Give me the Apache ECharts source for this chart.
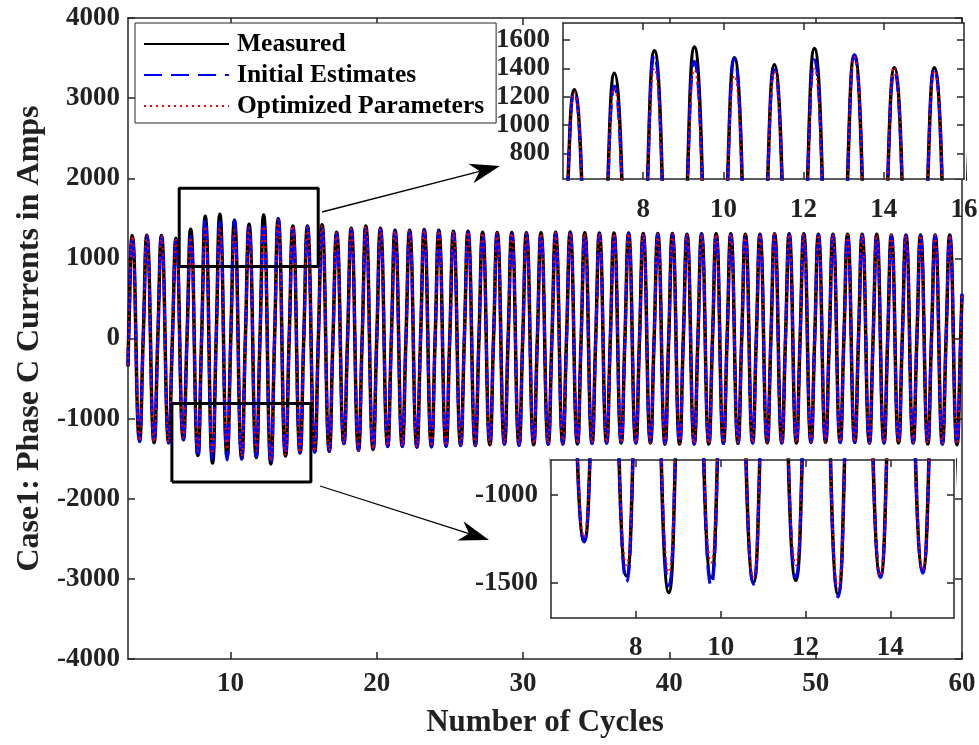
<!DOCTYPE html>
<html><head><meta charset="utf-8">
<script src="https://cdn.jsdelivr.net/npm/echarts@6/dist/echarts.min.js"></script>
<style>html,body{margin:0;padding:0;background:#fff}#c{width:979px;height:745px}</style>
</head><body><div id="c"></div>
<script>
// ---------- data ----------
const cycles = [3,4,5,6,7,8,9,10,11,12,13,14,15,16,17,18,19,20,21,22,23,24,25,26,27,28,29,30,31,32,33,34,35,36,37,38,39,40,41,42,43,44,45,46,47,48,49,50,51,52,53,54,55,56,57,58,59];
const firstPeakTime = 3.29;   // cycle position of first positive peak
const cyclePeriod = 0.9977;   // measured spacing between peaks

const measuredPeaks = [1285,1290,1285,1250,1365,1525,1550,1475,1425,1540,1495,1405,1405,1420,1325,1375,1405,1375,1350,1350,1360,1350,1340,1340,1325,1322,1322,1320,1320,1325,1328,1320,1318,1318,1318,1310,1310,1310,1300,1308,1308,1308,1300,1300,1308,1308,1308,1300,1300,1300,1300,1300,1292,1292,1292,1292,1292];
const measuredTroughs = [-1283,-1300,-1300,-1265,-1460,-1555,-1470,-1498,-1485,-1565,-1465,-1430,-1415,-1408,-1310,-1395,-1385,-1345,-1345,-1355,-1352,-1345,-1333,-1333,-1325,-1317,-1330,-1325,-1317,-1317,-1317,-1308,-1304,-1304,-1304,-1304,-1317,-1317,-1317,-1317,-1308,-1308,-1304,-1304,-1304,-1304,-1296,-1296,-1296,-1296,-1304,-1304,-1304,-1304,-1317,-1317,-1325];

const initialPeaks = [1275,1280,1275,1235,1275,1495,1450,1470,1390,1460,1495,1380,1400,1405,1315,1365,1395,1365,1340,1340,1350,1340,1330,1330,1315,1312,1312,1310,1310,1315,1318,1310,1308,1308,1308,1300,1300,1300,1292,1298,1298,1298,1292,1292,1298,1298,1298,1292,1292,1292,1292,1292,1285,1285,1285,1285,1285];
const initialTroughs = [-1290,-1305,-1305,-1265,-1495,-1517,-1517,-1508,-1470,-1580,-1470,-1445,-1420,-1410,-1315,-1400,-1390,-1350,-1350,-1360,-1355,-1350,-1338,-1338,-1330,-1322,-1335,-1330,-1322,-1322,-1322,-1312,-1308,-1308,-1308,-1308,-1320,-1320,-1320,-1320,-1312,-1312,-1308,-1308,-1308,-1308,-1300,-1300,-1300,-1300,-1308,-1308,-1308,-1308,-1320,-1320,-1328];

const optimizedPeaks = [1280,1285,1280,1230,1260,1400,1390,1350,1380,1400,1480,1410,1385,1410,1320,1370,1400,1370,1345,1345,1355,1345,1335,1335,1320,1318,1318,1315,1315,1320,1322,1315,1312,1312,1312,1305,1305,1305,1296,1303,1303,1303,1296,1296,1303,1303,1303,1296,1296,1296,1296,1296,1288,1288,1288,1288,1288];
const optimizedTroughs = [-1278,-1295,-1295,-1240,-1400,-1440,-1385,-1470,-1400,-1530,-1460,-1425,-1410,-1400,-1305,-1390,-1380,-1340,-1340,-1350,-1348,-1340,-1328,-1328,-1320,-1312,-1325,-1320,-1312,-1312,-1312,-1303,-1300,-1300,-1300,-1300,-1312,-1312,-1312,-1312,-1303,-1303,-1300,-1300,-1300,-1300,-1292,-1292,-1292,-1292,-1300,-1300,-1300,-1300,-1312,-1312,-1320];

const seriesNames = ['Measured','Initial Estimates','Optimized Parameters'];
const startValues = [-350,-340,-330];   // value at the left edge (cycle 3)
const endValues = [550,560,540];        // value at the right edge (cycle 60)

// tick labels
const mainXTicks = [10,20,30,40,50,60];
const mainYTicks = [-4000,-3000,-2000,-1000,0,1000,2000,3000,4000];
const inset1XTicks = [8,10,12,14,16];
const inset1YTicks = [800,1000,1200,1400,1600];
const inset2XTicks = [8,10,12,14];
const inset2YTicks = [-1500,-1000];

// zoom boxes on the main axes
const topBoxX = [6.5, 16], topBoxY = [900, 1875];
const bottomBoxX = [6, 15.5], bottomBoxY = [-1790, -810];

// ---------- build ----------
function buildWave(peaks, troughs, startVal, endVal) {
  const pts = [[3, startVal]];
  for (let i = 0; i < cycles.length; i++) {
    const tp = firstPeakTime + (cycles[i] - cycles[0]) * cyclePeriod;
    pts.push([tp - cyclePeriod / 4, 0]);
    pts.push([tp, peaks[i]]);
    pts.push([tp + cyclePeriod / 2, troughs[i]]);
  }
  const lastP = firstPeakTime + (cycles[cycles.length - 1] - cycles[0]) * cyclePeriod;
  pts.push([lastP + 3 * cyclePeriod / 4, 0]);
  pts.push([60, endVal]);
  return pts;
}
const waves = [
  buildWave(measuredPeaks, measuredTroughs, startValues[0], endValues[0]),
  buildWave(initialPeaks, initialTroughs, startValues[1], endValues[1]),
  buildWave(optimizedPeaks, optimizedTroughs, startValues[2], endValues[2])
];
const styles = [
  {color:'#000000', width:3.5, type:'solid'},
  {color:'#0000ff', width:3, type:[18,9]},
  {color:'#ff0000', width:2, type:[2,4]}
];

const FONT = '"Liberation Serif","Times New Roman",serif';
const AX = '#262626';
const plain = v => String(v);

function series(gridIdx, z) {
  return waves.map((w, k) => ({
    type:'line', name: seriesNames[k], data: w,
    xAxisIndex: gridIdx*2, yAxisIndex: gridIdx*2,
    showSymbol:false, symbol:'none', smooth:0.5, clip:true, silent:true, animation:false,
    z: z + k,
    color: styles[k].color,
    lineStyle:{color:styles[k].color, width:styles[k].width, type:styles[k].type}
  }));
}
function boxSeries(xs, ys) {
  return {
    type:'line', data:[[xs[0],ys[0]],[xs[1],ys[0]],[xs[1],ys[1]],[xs[0],ys[1]],[xs[0],ys[0]]],
    xAxisIndex:0, yAxisIndex:0, showSymbol:false, symbol:'none', silent:true, animation:false, z:6,
    lineStyle:{color:'#000', width:3}
  };
}
function axisDef(grid, pos, min, max, ticks, labels, margin, z, extra) {
  return Object.assign({
    type:'value', gridIndex:grid, position:pos, min, max, z,
    axisLine:{show:true, onZero:false, lineStyle:{color:AX, width:1.5}},
    axisTick:{show:true, inside:true, length:7, customValues:ticks, lineStyle:{color:AX, width:1.5}},
    axisLabel: labels ? {show:true, customValues:labels, formatter:plain, margin, color:'#222', fontFamily:FONT, fontWeight:'bold', fontSize:27} : {show:false},
    splitLine:{show:false}
  }, extra || {});
}

function arrow(x1, y1, x2, y2) {
  const dx = x2-x1, dy = y2-y1, len = Math.hypot(dx, dy), ux = dx/len, uy = dy/len, nx = -uy, ny = ux;
  const L = 30, W = 10, N = 9;
  const bx = x2 - L*ux, by = y2 - L*uy;
  return [
    {type:'line', z:20, shape:{x1, y1, x2: x2 - (L-N)*ux, y2: y2 - (L-N)*uy}, style:{stroke:'#000', lineWidth:1.3}},
    {type:'polygon', z:20, shape:{points:[[x2,y2],[bx+W*nx,by+W*ny],[x2-(L-N)*ux,y2-(L-N)*uy],[bx-W*nx,by-W*ny]]}, style:{fill:'#000'}}
  ];
}

const chart = echarts.init(document.getElementById('c'), null, {renderer:'canvas'});
chart.setOption({
  animation:false,
  backgroundColor:'#fff',
  grid:[
    {left:128, top:18, width:834, height:641, outerBoundsMode:'none', z:0},
    {left:563, top:23, width:401, height:156, show:true, backgroundColor:'#fff', borderWidth:0, outerBoundsMode:'none', z:8},
    {left:551, top:460, width:403, height:158, show:true, backgroundColor:'#fff', borderWidth:0, outerBoundsMode:'none', z:8}
  ],
  legend:{
    data:seriesNames, orient:'vertical', left:135, top:23, itemWidth:85, itemHeight:14, itemGap:5,
    padding:[8,12,4,8], borderColor:AX, borderWidth:1, backgroundColor:'#fff', selectedMode:false, z:12,
    itemStyle:{opacity:0, color:'rgba(0,0,0,0)', borderWidth:0, borderColor:'rgba(0,0,0,0)'},
    textStyle:{fontFamily:FONT, fontWeight:'bold', fontSize:25.5, color:'#000', lineHeight:26, padding:[0,0,0,3]}
  },
  xAxis:[
    axisDef(0,'bottom',3,60,mainXTicks,mainXTicks,12,2,{name:'Number of Cycles', nameLocation:'middle', nameGap:48,
      nameTextStyle:{fontFamily:FONT, fontWeight:'bold', fontSize:31, color:'#222'}}),
    axisDef(0,'top',3,60,mainXTicks,null,0,2),
    axisDef(1,'bottom',6,16,[8,10,12,14],inset1XTicks,18,10),
    axisDef(1,'top',6,16,[8,10,12,14],null,0,10),
    axisDef(2,'bottom',6,15.5,inset2XTicks,inset2XTicks,17,10),
    axisDef(2,'top',6,15.5,inset2XTicks,null,0,10)
  ],
  yAxis:[
    axisDef(0,'left',-4000,4000,mainYTicks,mainYTicks,8,2,{name:'Case1: Phase C Currents in Amps', nameLocation:'middle', nameGap:80,
      nameTextStyle:{fontFamily:FONT, fontWeight:'bold', fontSize:32, color:'#222'}}),
    axisDef(0,'right',-4000,4000,mainYTicks,null,0,2),
    axisDef(1,'left',620,1720,inset1YTicks,inset1YTicks,13,10),
    axisDef(1,'right',620,1720,inset1YTicks,null,0,10),
    axisDef(2,'left',-1700,-800,inset2YTicks,inset2YTicks,13,10),
    axisDef(2,'right',-1700,-800,inset2YTicks,null,0,10)
  ],
  series:[].concat(series(0,2), [boxSeries(topBoxX, topBoxY), boxSeries(bottomBoxX, bottomBoxY)], series(1,9), series(2,9)),
  graphic:[].concat(arrow(322,212,500,166), arrow(320,486,489,540))
});
</script></body></html>
